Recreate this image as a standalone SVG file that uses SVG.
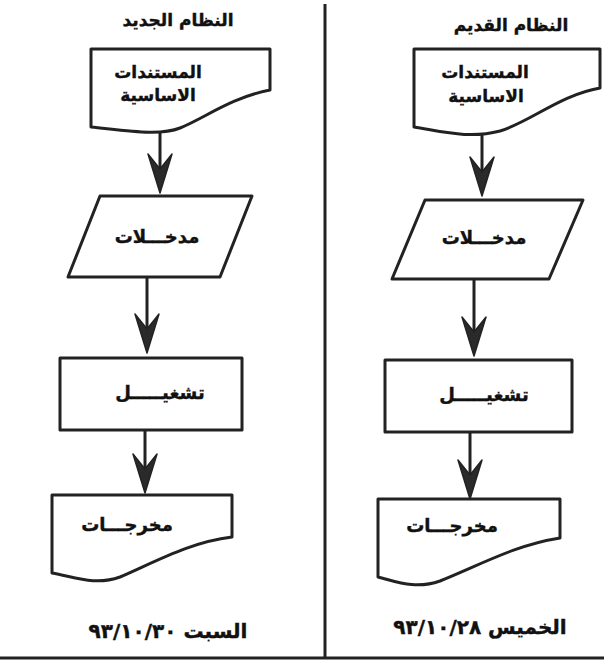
<svg xmlns="http://www.w3.org/2000/svg" width="604" height="663" viewBox="0 0 604 663">
  <style>
    .shape { fill: #fff; stroke: #222; stroke-width: 3; stroke-linejoin: round; }
    .rule { stroke: #222; stroke-width: 3; fill: none; }
    .flow { stroke: #222; stroke-width: 3; fill: none; }
    .lbl { font-family: "DejaVu Sans", "Noto Sans", sans-serif; font-weight: bold; fill: #111; stroke: #111; stroke-width: 0.4; text-anchor: middle; direction: rtl; }
    .title { font-size: 17px; }
    .node { font-size: 17px; }
    .word { font-size: 18px; }
    .date { font-size: 20px; }
  </style>
  <defs>
    <!-- barbed arrowhead, tip at origin pointing down -->
    <path id="head" d="M0,0 L-12,-39 L0,-24 L12,-39 Z" fill="#2a2a2a" stroke="#222" stroke-width="1.5" stroke-linejoin="round"/>
  </defs>
  <rect width="604" height="663" fill="#fff"/>

  <!-- page rules -->
  <line class="rule" x1="325" y1="4" x2="325" y2="658"/>
  <line class="rule" x1="0" y1="658" x2="604" y2="658"/>

  <!-- column headings -->
  <text class="lbl title" x="178" y="26">النظام الجديد</text>
  <text class="lbl title" x="511" y="31">النظام القديم</text>

  <!-- new system column -->
  <g id="new-docs">
    <path class="shape" d="M91,49 H270 V90 C230,98 205,118 180,128 C160,136 130,131 91,127 Z"/>
    <text class="lbl node" x="158" y="78">المستندات</text>
    <text class="lbl node" x="158" y="101">الاساسية</text>
  </g>
  <g id="new-input">
    <path class="shape" d="M100,196 H252 L220,277 H68 Z"/>
    <text class="lbl word" x="157" y="243">مدخـــلات</text>
  </g>
  <g id="new-process">
    <rect class="shape" x="60" y="358" width="182" height="72"/>
    <text class="lbl word" x="160" y="399">تشغيـــــل</text>
  </g>
  <g id="new-output">
    <path class="shape" d="M52,495 H232 V537 C190,542 155,562 120,577 C95,586 75,577 52,573 Z"/>
    <text class="lbl word" x="127" y="531">مخرجـــات</text>
  </g>
  <text class="lbl date" x="168" y="638">السبت ٩٣/١٠/٣٠</text>

  <!-- old system column -->
  <g id="old-docs">
    <path class="shape" d="M414,49 H600 V88 C560,95 530,122 500,131 C470,139 445,132 414,127 Z"/>
    <text class="lbl node" x="485" y="78">المستندات</text>
    <text class="lbl node" x="486" y="102">الاساسية</text>
  </g>
  <g id="old-input">
    <path class="shape" d="M425,200 H583 L549,279 H392 Z"/>
    <text class="lbl word" x="484" y="244">مدخـــلات</text>
  </g>
  <g id="old-process">
    <rect class="shape" x="385" y="360" width="187" height="72"/>
    <text class="lbl word" x="484" y="401">تشغيـــــل</text>
  </g>
  <g id="old-output">
    <path class="shape" d="M378,499 H560 V538 C515,545 480,565 440,581 C415,590 395,581 378,577 Z"/>
    <text class="lbl word" x="452" y="532">مخرجـــات</text>
  </g>
  <text class="lbl date" x="480" y="634">الخميس ٩٣/١٠/٢٨</text>

  <!-- connectors -->
  <g id="connectors">
    <line class="flow" x1="160" y1="132" x2="160" y2="172"/>
    <use href="#head" x="160" y="193"/>
    <line class="flow" x1="147" y1="278" x2="147" y2="332"/>
    <use href="#head" x="147" y="353"/>
    <line class="flow" x1="145" y1="431" x2="145" y2="472"/>
    <use href="#head" x="145" y="493"/>

    <line class="flow" x1="482" y1="134" x2="482" y2="175"/>
    <use href="#head" x="482" y="196"/>
    <line class="flow" x1="474" y1="280" x2="474" y2="335"/>
    <use href="#head" x="474" y="356"/>
    <line class="flow" x1="470" y1="433" x2="470" y2="478"/>
    <use href="#head" x="470" y="499"/>
  </g>
</svg>
